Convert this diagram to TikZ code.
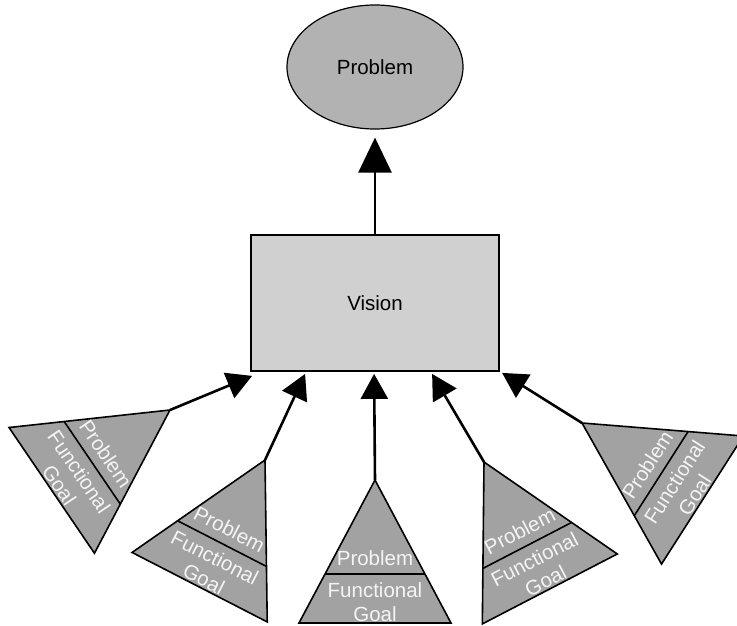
\documentclass[tikz,border=0pt]{standalone}
\usepackage{fontspec}
\setmainfont{Liberation Sans}
\usetikzlibrary{arrows.meta,shapes.geometric,calc}

\definecolor{ovalgray}{HTML}{B2B2B2}
\definecolor{boxgray}{HTML}{D0D0D0}
\definecolor{trigray}{HTML}{A2A2A2}
\definecolor{labelwhite}{HTML}{F4F4F4}

\tikzset{
  lbl/.style={font=\fontsize{20.5}{24.5}\selectfont},
  problemoval/.style={ellipse, draw, line width=1.2pt, fill=ovalgray,
    minimum width=176pt, minimum height=124pt, inner sep=0pt, lbl},
  visionbox/.style={rectangle, draw, line width=1.8pt, fill=boxgray,
    minimum width=248pt, minimum height=136pt, inner sep=0pt, lbl},
  tri/.style={draw, line width=1.6pt, fill=trigray, line join=miter},
  trilabel/.style={lbl, text=labelwhite, anchor=base, transform shape, inner sep=0pt},
  link/.style={line width=2.6pt, -{Triangle[length=25pt,width=27pt]}},
  toplink/.style={line width=2.6pt, -{Triangle[length=35pt,width=33pt]}},
  % a goal triangle: apex at the origin, pointing up
  goaltri/.pic={
    \draw[tri] (0,0) -- (-76,-143) -- (76,-143) -- cycle;
    \draw[line width=1.6pt] (-50,-94) -- (50,-94);
    \coordinate (-apex) at (0,0);
    \node[trilabel] (-prob) at (0,-85) {Problem};
    \node[trilabel] (-func) at (0,-117) {Functional};
    \node[trilabel] (-goal) at (0,-141) {Goal};
  },
}

\begin{document}
\begin{tikzpicture}[x=1pt,y=1pt]
  \useasboundingbox (0,-626) rectangle (737,0);
  \clip (0,-626) rectangle (737,0);

  \node[problemoval] (problem) at (375,-67) {Problem};
  \node[visionbox] (vision) at (375,-303) {Vision};

  \draw[toplink] (vision.north) -- ([yshift=-8pt]problem.south);

  % arrow tips along the bottom of the vision box
  \coordinate (v1) at ($(vision.south west)+(2,-4)$);
  \coordinate (v2) at ($(vision.south west)+(55,-2)$);
  \coordinate (v3) at ($(vision.south west)+(124,-2)$);
  \coordinate (v4) at ($(vision.south west)+(182,-2)$);
  \coordinate (v5) at ($(vision.south west)+(252,-1)$);

  \pic[rotate=-55.8] (t1) at (170,-410) {goaltri};
  \pic[rotate=-27.2] (t2) at (265,-460) {goaltri};
  \pic (t3) at (375,-480) {goaltri};
  \pic[rotate=27.4] (t4) at (484,-462) {goaltri};
  \pic[rotate=57.4] (t5) at (582,-423) {goaltri};

  \draw[link] (t1-apex) -- (v1);
  \draw[link] (t2-apex) -- (v2);
  \draw[link] (t3-apex) -- (v3);
  \draw[link] (t4-apex) -- (v4);
  \draw[link] (t5-apex) -- (v5);
\end{tikzpicture}
\end{document}
